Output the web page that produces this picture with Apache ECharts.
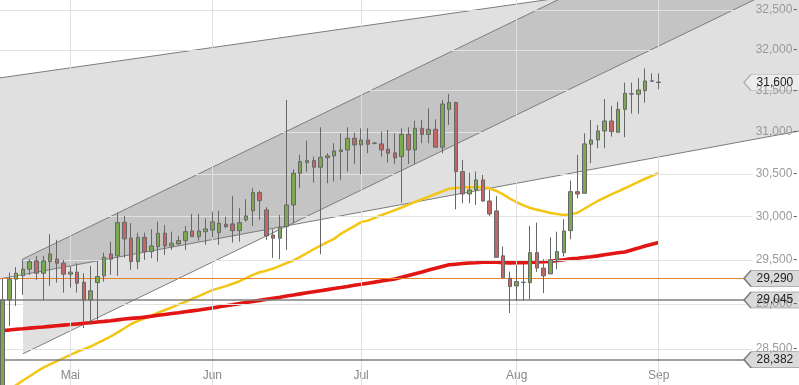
<!DOCTYPE html>
<html><head><meta charset="utf-8">
<script src="https://cdn.jsdelivr.net/npm/echarts@6/dist/echarts.min.js"></script>
<style>html,body{margin:0;padding:0;background:#fff}#c{width:799px;height:385px}</style>
</head><body><div id="c"></div>
<script>
// ---- data ----
const monthLabels = ['Mai', 'Jun', 'Jul', 'Aug', 'Sep'];
const monthStartIdx = [10, 31, 53, 76, 97];
const slotCount = 118;
const categories = Array.from({length: slotCount}, (_, i) => 'T' + i);

const opens = [27950,29047,29281,29319,29395,29490,29349,29481,29509,29463,
29338,29361,29247,29047,29242,29319,29569,29547,29934,29750,
29481,29760,29596,29653,29807,29661,29684,29722,29833,29768,
29825,29845,29814,29911,29915,29837,29961,30069,30280,30077,
29787,29750,29884,30136,30508,30634,30658,30579,30693,30714,
30765,30785,30924,30845,30904,30866,30857,30793,30750,30705,
30971,30785,31044,30971,31032,30817,31273,31355,30527,30264,
30311,30429,30182,30066,29547,29292,29205,29243,29242,29584,
29407,29341,29501,29584,29837,30291,30272,30853,30904,31012,
31132,30996,31273,31458,31456,31500,31615,31605];
const closes = [29045,29281,29349,29395,29481,29349,29490,29569,29463,29338,
29361,29236,29047,29149,29311,29532,29509,29930,29742,29481,
29760,29596,29661,29807,29661,29692,29722,29825,29768,29833,
29857,29938,29923,29884,29837,29930,30007,30280,30186,29776,
29750,29876,30136,30508,30646,30658,30579,30698,30714,30773,
30785,30924,30845,30904,30853,30864,30785,30746,30690,30971,
30785,31044,30971,31032,30817,31337,31355,30527,30264,30311,
30429,30182,30031,29530,29299,29197,29254,29247,29584,29407,
29319,29501,29596,29833,30291,30264,30857,30904,31012,31132,
31004,31273,31468,31462,31509,31618,31620,31600];
const lows = [27900,28756,28980,29104,29330,29273,29047,29205,29242,29129,
29186,29129,28731,28793,28804,29254,29330,29319,29527,29387,
29395,29501,29520,29481,29558,29615,29673,29615,29768,29722,
29673,29760,29673,29865,29699,29710,29941,29891,29961,29730,
29524,29509,29615,29923,30331,30527,30397,29566,30390,30409,
30429,30527,30619,30496,30746,30850,30705,30634,30619,30163,
30619,30619,30865,30865,30817,30746,31084,30085,30156,30156,
30136,30174,30007,29530,29299,28900,29036,29041,29055,29364,
29123,29341,29395,29539,29738,30214,30272,30627,30805,30805,
30944,30996,30937,31221,31221,31354,31610,31517];
const highs = [29290,29356,29418,29509,29509,29547,29547,29795,29730,29501,
29433,29463,29349,29433,29490,29584,29710,30046,30007,29923,
29814,29814,29853,29941,29903,29825,29776,29891,30031,30031,
29981,30057,30069,29999,30240,30097,30202,30331,30303,30108,
29853,30019,31387,30555,30726,30896,30705,31056,30746,30865,
30984,31056,30992,31044,31044,30880,31004,31024,30984,31044,
31056,31136,31144,31285,31152,31387,31460,31365,30666,30515,
30527,30488,30311,30240,29653,29368,29444,29463,29891,29930,
29509,29760,29825,29969,30421,30726,30984,31144,31084,31397,
31314,31366,31598,31598,31652,31772,31712,31712];

const maYellow = [28010,28057,28104,28154,28201,28249,28295,28330,28365,28400,
28434,28469,28498,28527,28565,28601,28639,28684,28730,28777,
28811,28841,28872,28903,28934,28964,28994,29026,29057,29090,
29124,29157,29180,29203,29229,29258,29292,29330,29360,29378,
29402,29433,29465,29495,29535,29580,29623,29665,29704,29742,
29800,29845,29890,29936,29953,29984,30016,30046,30076,30106,
30139,30171,30202,30233,30264,30295,30324,30334,30343,30343,
30343,30342,30329,30299,30259,30209,30167,30130,30100,30080,
30062,30042,30030,30019,30026,30045,30091,30138,30182,30221,
30258,30295,30331,30369,30407,30443,30477,30511];
const maRed = [28703,28711,28718,28724,28731,28738,28744,28751,28758,28765,
28771,28778,28785,28791,28799,28806,28814,28823,28832,28840,
28845,28854,28864,28874,28884,28894,28903,28914,28924,28933,
28945,28957,28969,28982,28993,29005,29018,29030,29042,29054,
29066,29078,29091,29102,29115,29127,29139,29151,29163,29176,
29187,29199,29212,29223,29236,29248,29261,29272,29284,29304,
29324,29344,29364,29385,29405,29426,29445,29452,29459,29466,
29469,29474,29478,29474,29469,29467,29469,29470,29473,29476,
29480,29484,29494,29503,29514,29520,29528,29536,29547,29560,
29571,29582,29591,29613,29636,29661,29681,29699];

const gridValues = [28500, 29000, 29500, 30000, 30500, 31000, 31500, 32000, 32500];
const levelOrange = 29290;
const levelGray = [29045, 28382];
const lastPrice = 31600;

// trend channels: [slot index, price] end points
const outerUpper = [[-0.5, 31655], [118, 33091]];
const outerLower = [[-0.5, 29283], [118, 31015]];
const innerUpper = [[3.0, 29512], [118, 34148]];
const innerLower = [[3.0, 28447], [118, 32914]];

// ---- chart ----
const FONT = 'Liberation Sans, Arial, sans-serif';
const fmt = v => v.toLocaleString('en-US');
const isMonth = i => monthStartIdx.indexOf(i) >= 0;

const chart = echarts.init(document.getElementById('c'), null, {renderer: 'canvas'});
const candleData = opens.map((o, i) => [o, closes[i], lows[i], highs[i]]);

const tagItem = (v, light) => ({
  name: fmt(v), coord: [113.75, v],
  itemStyle: light ? {color: '#ececec', borderColor: '#b0b0b0', borderWidth: 1}
                   : {color: '#dadada', borderColor: '#7a7a7a', borderWidth: 1}
});

chart.setOption({
  animation: false,
  backgroundColor: '#ffffff',
  textStyle: {fontFamily: FONT},
  grid: {left: -0.7, top: 0, width: 798, bottom: 0, containLabel: false, outerBoundsMode: 'none'},
  xAxis: [
    {type: 'category', data: categories, boundaryGap: true, position: 'bottom',
     axisLine: {show: false},
     axisTick: {show: true, inside: true, length: 4, alignWithLabel: true,
                interval: (i) => isMonth(i), lineStyle: {color: '#333', width: 1}},
     axisLabel: {show: true, inside: true, margin: 3, interval: (i) => isMonth(i),
                 formatter: (v, i) => monthLabels[monthStartIdx.indexOf(i)] || '',
                 color: '#888', fontSize: 12, fontFamily: FONT},
     splitLine: {show: false}},
    {type: 'value', min: -0.5, max: 117.5, show: false}
  ],
  yAxis: [{type: 'log', min: 28105, max: 32626, position: 'right', show: false}],
  series: [
    {
      type: 'custom', xAxisIndex: 1, yAxisIndex: 0, z: 1, silent: true,
      data: [[0, 30000]],
      renderItem: (params, api) => {
        const P = pts => pts.map(p => api.coord(p));
        const oU = P(outerUpper), oL = P(outerLower), iU = P(innerUpper), iL = P(innerLower);
        const fill = 'rgba(0,0,0,0.12)';
        const line = pts => ({type: 'polyline', shape: {points: pts},
          style: {stroke: '#7c7c7c', lineWidth: 1, fill: null}});
        return {type: 'group', children: [
          {type: 'polygon', shape: {points: oU.concat(oL.slice().reverse())}, style: {fill: fill}},
          {type: 'polygon', shape: {points: iU.concat(iL.slice().reverse())}, style: {fill: fill}},
          line(oU), line(oL), line(iU), line(iL)
        ]};
      }
    },
    {
      type: 'line', xAxisIndex: 1, yAxisIndex: 0, z: 2, silent: true,
      data: [[0, 30000]], symbol: 'none', lineStyle: {opacity: 0},
      markLine: {
        silent: true, symbol: ['none', 'none'], animation: false,
        data: gridValues.map(v => [
          {coord: [-0.5, v], lineStyle: {color: '#e2e2e2', width: 1, type: 'solid'},
           label: {show: true, position: 'end', distance: 3,
                   formatter: '{n|' + fmt(v) + '}{t|-}',
                   rich: {n: {color: '#9a9a9a', fontSize: 12, fontFamily: FONT},
                          t: {color: '#555', fontSize: 12, fontFamily: FONT, padding: [0, 0, 0, 1]}}}},
          {coord: [110.9, v]}
        ]).concat(monthStartIdx.map(i => ({
          xAxis: i, lineStyle: {color: '#dedede', width: 1, type: 'solid'}, label: {show: false}
        })))
      }
    },
    {
      type: 'line', xAxisIndex: 1, yAxisIndex: 0, z: 3, silent: true,
      data: [[0, 30000]], symbol: 'none', lineStyle: {opacity: 0},
      markLine: {
        silent: true, symbol: ['none', 'none'], animation: false, label: {show: false},
        data: [{yAxis: levelOrange, lineStyle: {color: '#e4852c', width: 1.2, type: 'solid'}}]
          .concat(levelGray.map(v => ({yAxis: v, lineStyle: {color: '#7f7f7f', width: 1.6, type: 'solid'}})))
      }
    },
    {
      type: 'line', xAxisIndex: 0, yAxisIndex: 0, z: 4, silent: true, data: maYellow,
      symbol: 'none', lineStyle: {color: '#f3c614', width: 2.5}
    },
    {
      type: 'line', xAxisIndex: 0, yAxisIndex: 0, z: 4, silent: true, data: maRed,
      symbol: 'none', lineStyle: {color: '#e21515', width: 3.6}
    },
    {
      type: 'candlestick', xAxisIndex: 0, yAxisIndex: 0, z: 5, silent: true,
      data: candleData, barWidth: 4,
      itemStyle: {color: '#7aa94f', color0: '#c46666', borderColor: '#676767',
                  borderColor0: '#676767', borderColorDoji: '#676767', borderWidth: 1}
    },
    {
      type: 'line', xAxisIndex: 1, yAxisIndex: 0, z: 10, silent: true,
      data: [[0, 30000]], symbol: 'none', lineStyle: {opacity: 0},
      markPoint: {
        silent: true, animation: false,
        symbol: 'path://M0,8L7,0L56,0L56,16L7,16Z', symbolSize: [56, 16], symbolKeepAspect: false,
        label: {show: true, position: 'inside', offset: [3, 0], color: '#222', fontSize: 12,
                fontFamily: FONT, formatter: p => p.name},
        data: [tagItem(lastPrice, true), tagItem(levelOrange, false)]
          .concat(levelGray.map(v => tagItem(v, false)))
      }
    }
  ]
});
</script>
</body></html>
